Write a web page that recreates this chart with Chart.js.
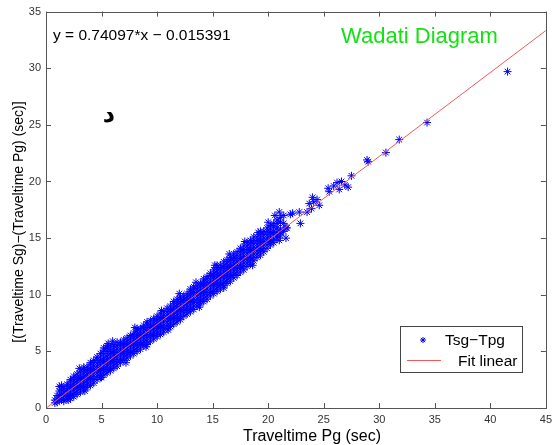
<!DOCTYPE html>
<html>
<head>
<meta charset="utf-8">
<script src="https://cdn.jsdelivr.net/npm/chart.js@4.4.0/dist/chart.umd.min.js"></script>
<style>
  html, body { margin: 0; padding: 0; background: #fff; }
  #wadati { display: block; }
</style>
</head>
<body>
<canvas id="wadati" width="557" height="445"></canvas>
<script>
// Wadati diagram: (Ts - Tp) against Tp

// dense band, read column by column: Pg travel time and the Sg-Pg values seen at it
const pgColumns = [0.8, 1.0, 1.2, 1.4, 1.6, 1.9, 2.2, 2.5, 2.8, 3.1, 3.4, 3.7, 4.0, 4.3, 4.6, 4.9,
    5.2, 5.5, 5.8, 6.1, 6.4, 6.7, 7.0, 7.3, 7.6, 7.9, 8.2, 8.5, 8.8, 9.1, 9.4, 9.7, 10.0,
    10.3, 10.6, 10.9, 11.2, 11.5, 11.8, 12.1, 12.4, 12.7, 13.0, 13.3, 13.6, 13.9, 14.2, 14.5,
    14.8, 15.1, 15.4, 15.7, 16.0, 16.3, 16.6, 16.9, 17.2, 17.5, 17.8, 18.1, 18.4, 18.7, 19.0,
    19.3, 19.6, 19.9, 20.2, 20.5, 20.8, 21.1, 21.4, 21.6];
const sgPgColumns = [
    [0.45, 0.7], [0.5, 0.8, 1.1], [0.7, 1.1, 1.5, 1.9], [0.8, 1.2, 1.6, 2.0], [0.6, 0.8, 1.1, 1.4, 1.7],
    [0.8, 1.0, 1.3, 1.6, 1.9, 2.1], [0.85, 1.1, 1.4, 1.7, 2.0, 2.3, 2.5], [1.0, 1.3, 1.6, 1.9, 2.2, 2.5, 2.8],
    [1.2, 1.5, 1.8, 2.1, 2.4, 2.7, 3.0], [1.4, 1.7, 2.0, 2.3, 2.6, 2.9, 3.2],
    [1.6, 1.9, 2.2, 2.5, 2.8, 3.1, 3.4, 3.6], [1.8, 2.1, 2.4, 2.7, 3.0, 3.3, 3.6],
    [2.0, 2.3, 2.6, 2.9, 3.2, 3.5, 3.8, 4.0], [2.2, 2.5, 2.8, 3.1, 3.4, 3.7, 4.0, 4.2],
    [2.5, 2.8, 3.1, 3.4, 3.7, 4.0, 4.3, 4.5], [2.7, 3.0, 3.3, 3.6, 3.9, 4.2, 4.5, 4.8],
    [2.9, 3.2, 3.5, 3.8, 4.1, 4.4, 4.8, 5.1, 5.3], [3.1, 3.4, 3.7, 4.0, 4.3, 4.6, 5.0, 5.3, 5.5],
    [3.3, 3.6, 3.9, 4.2, 4.5, 4.8, 5.1, 5.4], [3.5, 3.8, 4.1, 4.4, 4.7, 5.0, 5.3, 5.6],
    [3.7, 4.0, 4.3, 4.6, 4.9, 5.2, 5.5, 5.8], [4.0, 4.3, 4.6, 4.9, 5.2, 5.5, 5.8],
    [4.2, 4.5, 4.8, 5.1, 5.4, 5.7, 6.0], [4.4, 4.7, 5.0, 5.3, 5.6, 5.9, 6.2],
    [4.6, 4.9, 5.2, 5.5, 5.8, 6.1, 6.4], [4.8, 5.1, 5.4, 5.7, 6.0, 6.3, 6.6],
    [5.0, 5.3, 5.6, 5.9, 6.2, 6.5, 6.8, 7.0], [5.2, 5.5, 5.8, 6.1, 6.4, 6.7, 7.0],
    [5.5, 5.8, 6.1, 6.4, 6.7, 7.0, 7.3], [5.6, 5.9, 6.2, 6.5, 6.8, 7.1, 7.4, 7.6],
    [5.9, 6.2, 6.5, 6.8, 7.1, 7.4, 7.7], [6.1, 6.4, 6.7, 7.0, 7.3, 7.6, 7.9],
    [6.3, 6.6, 6.9, 7.2, 7.5, 7.8, 8.1], [6.5, 6.8, 7.1, 7.4, 7.7, 8.0, 8.3],
    [6.7, 7.0, 7.3, 7.6, 7.9, 8.2, 8.5], [7.0, 7.3, 7.6, 7.9, 8.2, 8.5, 8.8],
    [7.2, 7.5, 7.8, 8.1, 8.4, 8.7, 9.0], [7.4, 7.7, 8.0, 8.3, 8.6, 8.9, 9.2, 9.4],
    [7.6, 7.9, 8.2, 8.5, 8.8, 9.1, 9.4, 9.6], [7.8, 8.1, 8.4, 8.7, 9.0, 9.3, 9.6, 9.8],
    [8.1, 8.4, 8.7, 9.0, 9.3, 9.6, 9.9], [8.3, 8.6, 8.9, 9.2, 9.5, 9.8, 10.1],
    [8.5, 8.8, 9.1, 9.4, 9.7, 10.0, 10.3, 10.5], [8.7, 9.0, 9.3, 9.6, 9.9, 10.2, 10.5, 10.7],
    [9.0, 9.3, 9.6, 9.9, 10.2, 10.5, 10.8], [9.2, 9.5, 9.8, 10.1, 10.4, 10.7, 11.0],
    [9.4, 9.7, 10.0, 10.3, 10.6, 10.9, 11.2, 11.4], [9.6, 9.9, 10.2, 10.5, 10.8, 11.1, 11.4, 11.6],
    [9.9, 10.2, 10.5, 10.8, 11.1, 11.4, 11.7, 11.9], [10.1, 10.4, 10.7, 11.0, 11.3, 11.6, 11.9, 12.2],
    [10.3, 10.6, 10.9, 11.2, 11.5, 11.8, 12.1, 12.4, 12.6], [10.5, 10.8, 11.1, 11.4, 11.7, 12.0, 12.3, 12.6],
    [10.8, 11.1, 11.4, 11.7, 12.0, 12.3, 12.6, 12.9], [11.0, 11.3, 11.6, 11.9, 12.2, 12.5, 12.8, 13.1],
    [11.2, 11.5, 11.8, 12.1, 12.4, 12.7, 13.0, 13.3], [11.5, 11.8, 12.1, 12.4, 12.7, 13.0, 13.3, 13.6],
    [11.7, 12.0, 12.3, 12.6, 12.9, 13.2, 13.5, 13.8], [12.0, 12.3, 12.6, 12.9, 13.2, 13.5, 13.8, 14.1],
    [12.2, 12.5, 12.8, 13.1, 13.4, 13.7, 14.0, 14.3], [12.5, 12.8, 13.1, 13.4, 13.7, 14.0, 14.3, 14.6],
    [12.7, 13.0, 13.3, 13.6, 13.9, 14.2, 14.5, 14.8], [13.0, 13.3, 13.6, 13.9, 14.2, 14.5, 14.8, 15.1],
    [13.3, 13.6, 13.9, 14.2, 14.5, 14.8, 15.1], [13.5, 13.8, 14.1, 14.4, 14.7, 15.0, 15.3, 15.6],
    [13.8, 14.1, 14.4, 14.7, 15.0, 15.3, 15.6], [14.1, 14.4, 14.7, 15.0, 15.3, 15.6, 15.9],
    [14.4, 14.6, 14.9, 15.2, 15.5, 15.8, 16.1], [14.6, 14.9, 15.3, 15.6, 16.0, 16.3],
    [15.0, 15.2, 15.5, 15.9, 16.3, 16.6], [15.2, 15.5, 15.8, 16.4, 16.8], [15.6, 16.3, 17.0], [15.0, 15.9]
];

// stray events on the band edges and the sparse ones above ~21 s
const outlierPg   = [3.0, 5.6, 6.0, 8.0, 10.4, 12.0, 13.5, 15.2, 16.5, 17.9, 19.1, 20.0, 20.6, 21.0,
    2.0, 3.5, 5.0, 7.2, 9.0, 11.0, 13.8, 16.0, 18.6, 21.0,
    21.7, 22.0, 22.2, 22.8, 22.9, 23.5, 23.7, 23.9, 24.0, 24.1, 24.4, 24.6,
    25.4, 25.5, 25.9, 26.2, 26.4, 26.6, 26.9, 27.2, 27.5, 28.9, 29.0, 30.6, 31.8, 34.3, 41.55];
const outlierSgPg = [3.5, 5.7, 5.9, 7.1, 8.6, 10.1, 11.1, 12.6, 13.6, 14.7, 15.5, 16.4, 17.0, 17.3,
    0.7, 1.5, 2.7, 4.0, 5.4, 6.9, 8.9, 10.6, 12.6, 14.8,
    15.9, 17.1, 17.2, 17.3, 16.3, 17.3, 18.05, 17.6, 18.6, 18.2, 18.4, 17.9,
    19.4, 19.1, 19.6, 19.9, 19.3, 20.0, 19.7, 19.5, 20.5, 21.9, 21.75, 22.55, 23.7, 25.2, 29.7];

// linear fit y = 0.74097*x - 0.015391 at the axis ends
const fitX = [0, 45];
const fitY = [-0.015391, 33.328259];

const xTicks = [0, 5, 10, 15, 20, 25, 30, 35, 40, 45];
const yTicks = [0, 5, 10, 15, 20, 25, 30, 35];

const FONT = "'Liberation Sans', Arial, sans-serif";
const BLUE = 'rgb(0,0,255)';
const RED = 'rgb(240,90,90)';

let tsgPoints = [];
pgColumns.forEach((x, i) => {
    sgPgColumns[i].forEach(y => tsgPoints.push({x: x, y: y}));
});
outlierPg.forEach((x, i) => tsgPoints.push({x: x, y: outlierSgPg[i]}));

const fitPoints = fitX.map((x, i) => ({x: x, y: fitY[i]}));

function star(ctx, x, y, r) {
    ctx.beginPath();
    ctx.moveTo(x - r, y); ctx.lineTo(x + r, y);
    ctx.moveTo(x, y - r); ctx.lineTo(x, y + r);
    const d = r * 0.707;
    ctx.moveTo(x - d, y - d); ctx.lineTo(x + d, y + d);
    ctx.moveTo(x - d, y + d); ctx.lineTo(x + d, y - d);
    ctx.stroke();
}

// box, inward ticks, legend and the texts
const decorations = {
    id: 'decorations',
    afterDraw(chart) {
        const ctx = chart.ctx;
        const a = chart.chartArea;
        const sx = chart.scales.x, sy = chart.scales.y;
        ctx.save();
        ctx.strokeStyle = '#555';
        ctx.lineWidth = 1;
        ctx.strokeRect(Math.round(a.left) + 0.5, Math.round(a.top) + 0.5,
            Math.round(a.right - a.left), Math.round(a.bottom - a.top));
        ctx.beginPath();
        xTicks.forEach(v => {
            const px = Math.round(sx.getPixelForValue(v)) + 0.5;
            ctx.moveTo(px, a.bottom); ctx.lineTo(px, a.bottom - 5);
            ctx.moveTo(px, a.top); ctx.lineTo(px, a.top + 5);
        });
        yTicks.forEach(v => {
            const py = Math.round(sy.getPixelForValue(v)) + 0.5;
            ctx.moveTo(a.left, py); ctx.lineTo(a.left + 5, py);
            ctx.moveTo(a.right, py); ctx.lineTo(a.right - 5, py);
        });
        ctx.stroke();

        // legend
        ctx.fillStyle = '#fff';
        ctx.fillRect(400, 326, 123, 46);
        ctx.strokeStyle = '#444';
        ctx.strokeRect(400.5, 326.5, 122, 46);
        ctx.strokeStyle = BLUE;
        star(ctx, 423, 340, 3);
        ctx.strokeStyle = RED;
        ctx.beginPath();
        ctx.moveTo(407, 360.5); ctx.lineTo(441, 360.5);
        ctx.stroke();
        ctx.fillStyle = '#000';
        ctx.font = '15.5px ' + FONT;
        ctx.textBaseline = 'alphabetic';
        ctx.textAlign = 'left';
        ctx.fillText('Tsg\u2212Tpg', 445, 345);
        ctx.fillText('Fit linear', 458, 366);

        // annotations
        ctx.fillText('y = 0.74097*x \u2212 0.015391', 53, 40);
        ctx.fillStyle = 'rgb(20,225,20)';
        ctx.font = '22px ' + FONT;
        ctx.fillText('Wadati Diagram', 341, 43);
        ctx.fillStyle = '#000';
        ctx.font = 'bold 24px "DejaVu Sans", sans-serif';
        ctx.textAlign = 'center';
        ctx.fillText('\u062F', 109, 122);

        // axis titles
        ctx.font = '16px ' + FONT;
        ctx.fillText('Traveltime Pg (sec)', 312, 441);
        ctx.translate(19, 222);
        ctx.rotate(-Math.PI / 2);
        ctx.font = '14px ' + FONT;
        ctx.textBaseline = 'middle';
        ctx.fillText('[(Traveltime Sg)\u2212(Traveltime Pg) (sec)]', 0, 0);
        ctx.restore();
    }
};

new Chart(document.getElementById('wadati'), {
    type: 'scatter',
    data: {
        datasets: [{
            label: 'Fit linear',
            type: 'line',
            data: fitPoints,
            borderColor: RED,
            borderWidth: 1,
            pointRadius: 0,
            fill: false,
            order: 0
        },
        {
            label: 'Tsg-Tpg',
            data: tsgPoints,
            pointStyle: 'star',
            pointRadius: 4,
            borderColor: BLUE,
            backgroundColor: BLUE,
            borderWidth: 1,
            order: 1
        }]
    },
    options: {
        responsive: false,
        animation: false,
        layout: { padding: { top: 8, right: 5, left: 0, bottom: 0 } },
        plugins: {
            legend: { display: false },
            tooltip: { enabled: false }
        },
        scales: {
            x: {
                type: 'linear',
                min: 0,
                max: 45,
                afterBuildTicks: s => { s.ticks = xTicks.map(v => ({value: v})); },
                afterFit: s => { s.height = 37; },
                grid: { display: false, drawTicks: false },
                border: { display: false },
                ticks: { padding: 5, color: '#333', maxRotation: 0, font: { family: FONT, size: 11 } }
            },
            y: {
                min: 0,
                max: 35,
                afterBuildTicks: s => { s.ticks = yTicks.map(v => ({value: v})); },
                afterFit: s => { s.width = 46; },
                grid: { display: false, drawTicks: false },
                border: { display: false },
                ticks: { padding: 5, color: '#333', font: { family: FONT, size: 11 } }
            }
        }
    },
    plugins: [decorations]
});
</script>
</body>
</html>
